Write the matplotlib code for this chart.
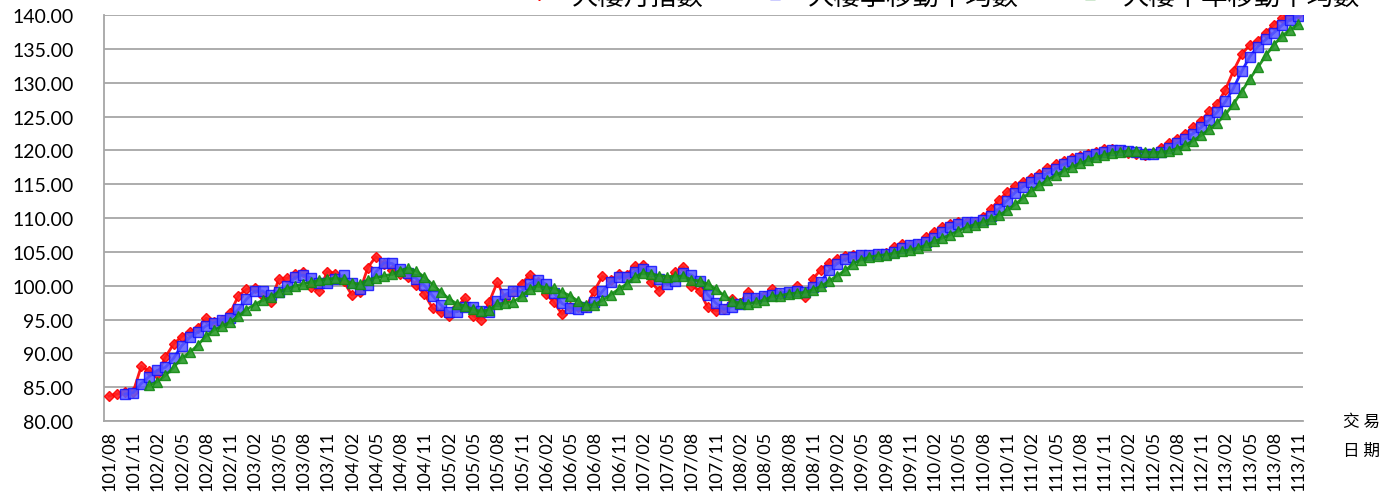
import numpy as np
import pandas as pd
import matplotlib
matplotlib.use("Agg")
import matplotlib.pyplot as plt
from matplotlib.font_manager import FontProperties
from matplotlib.lines import Line2D

# 大樓月指數, monthly from 101/08 to 113/11
monthly_index = [
    83.7, 84.0, 84.3, 84.3, 88.1, 87.4, 87.0, 89.5, 91.4, 92.5, 93.2, 93.8,
    95.2, 94.7, 95.0, 96.0, 98.5, 99.5, 99.7, 98.5, 97.6, 101.0, 101.1, 101.7,
    102.0, 99.8, 99.3, 102.1, 101.8, 100.7, 98.7, 99.1, 102.7, 104.3, 103.2, 102.4,
    101.8, 101.3, 100.1, 98.8, 96.7, 96.1, 95.6, 96.8, 98.2, 95.6, 95.0, 97.6,
    100.5, 98.1, 99.1, 100.3, 101.6, 100.5, 98.8, 97.6, 95.8, 96.9, 96.8, 96.9,
    99.3, 101.4, 100.8, 101.7, 101.6, 102.9, 103.1, 100.5, 99.3, 100.8, 102.0, 102.8,
    100.0, 99.3, 96.8, 96.3, 96.5, 98.0, 97.5, 99.1, 98.0, 98.5, 99.5, 98.8,
    99.0, 99.9, 98.4, 101.0, 102.4, 103.4, 104.0, 104.4, 104.5, 104.6, 104.6, 104.7,
    104.8, 105.7, 106.2, 106.0, 106.2, 107.2, 108.0, 108.7, 109.2, 109.4, 109.5, 109.5,
    110.1, 111.3, 112.7, 113.8, 114.8, 115.4, 115.9, 116.5, 117.4, 118.0, 118.5, 118.9,
    119.2, 119.5, 119.8, 120.2, 120.2, 120.0, 119.6, 119.5, 119.3, 119.6, 120.4, 121.1,
    121.7, 122.4, 123.4, 124.4, 125.8, 126.9, 129.0, 131.8, 134.2, 135.6, 136.2, 137.4,
    138.6, 139.5, 139.9, 140.2,
]
series_names = ["大樓月指數", "大樓季移動平均數", "大樓半年移動平均數"]
yticks = [80, 85, 90, 95, 100, 105, 110, 115, 120, 125, 130, 135, 140]

# month labels 101/08 ... 113/11
months = []
yr, mo = 101, 8
for _ in monthly_index:
    months.append(f"{yr}/{mo:02d}")
    mo += 1
    if mo > 12:
        yr, mo = yr + 1, 1

df = pd.DataFrame({"month": months, "idx": monthly_index})
df["ma3"] = df["idx"].rolling(3).mean()
df["ma6"] = df["idx"].rolling(6).mean()
x = np.arange(len(df))

fig = plt.figure(figsize=(13.96, 5.02), dpi=100)
ax = fig.add_axes([0.0745, 0.159, 0.859, 0.809])

ax.plot(x, df["idx"], color="#ff0000", lw=2, marker="D", ms=5.5,
        mfc="#ff2020", mec="#ff0000", alpha=0.9, zorder=3)
ax.plot(x, df["ma3"], color="#0000ff", lw=2, marker="s", ms=7.5,
        mfc="#5a5aff", mec="#1010ff", alpha=0.85, zorder=4)
ax.plot(x, df["ma6"], color="#138a13", lw=2, marker="^", ms=7,
        mfc="#2a9a2a", mec="#138a13", alpha=0.9, zorder=5)

ax.set_xlim(-0.6, len(df) - 0.4)
ax.set_ylim(80, 140)
ax.set_yticks(yticks)
ax.set_yticklabels([f"{v:.2f}" for v in yticks], family="Lato", fontsize=14)
ax.set_xticks(x[::3])
ax.set_xticklabels(months[::3], rotation=90, family="Lato", fontsize=13)
ax.tick_params(axis="y", length=0, pad=22)
ax.tick_params(axis="x", length=0, pad=6)
ax.grid(axis="y", color="#a6a6a6", lw=1.3)
ax.set_axisbelow(True)
for s in ["top", "right"]:
    ax.spines[s].set_visible(False)
for s in ["left", "bottom"]:
    ax.spines[s].set_color("#a6a6a6")
    ax.spines[s].set_linewidth(1.3)

# legend handles: faded line with solid marker, like the original
handles = [
    Line2D([], [], color="#ffb8b8", lw=3, marker="D", ms=6, mfc="#ff0000", mec="#ff0000"),
    Line2D([], [], color="#b8b8ff", lw=3, marker="s", ms=7, mfc="#2020ff", mec="#0000ff"),
    Line2D([], [], color="#b8e0b8", lw=3, marker="^", ms=7, mfc="#138a13", mec="#138a13"),
]
cjk = FontProperties(family=["Noto Sans CJK TC", "DejaVu Sans"], size=19)
fig.legend(handles, series_names, loc="center", bbox_to_anchor=(0.671, 1.006),
           ncol=3, frameon=False, prop=cjk, handlelength=1.97, handletextpad=0.27,
           columnspacing=1.7)

fig.text(0.9755, 0.175, "交 易\n日 期", ha="center", va="top", linespacing=1.9,
         family=["Noto Sans CJK TC", "DejaVu Sans"], fontsize=12)

fig.savefig("out.png", dpi=100)
